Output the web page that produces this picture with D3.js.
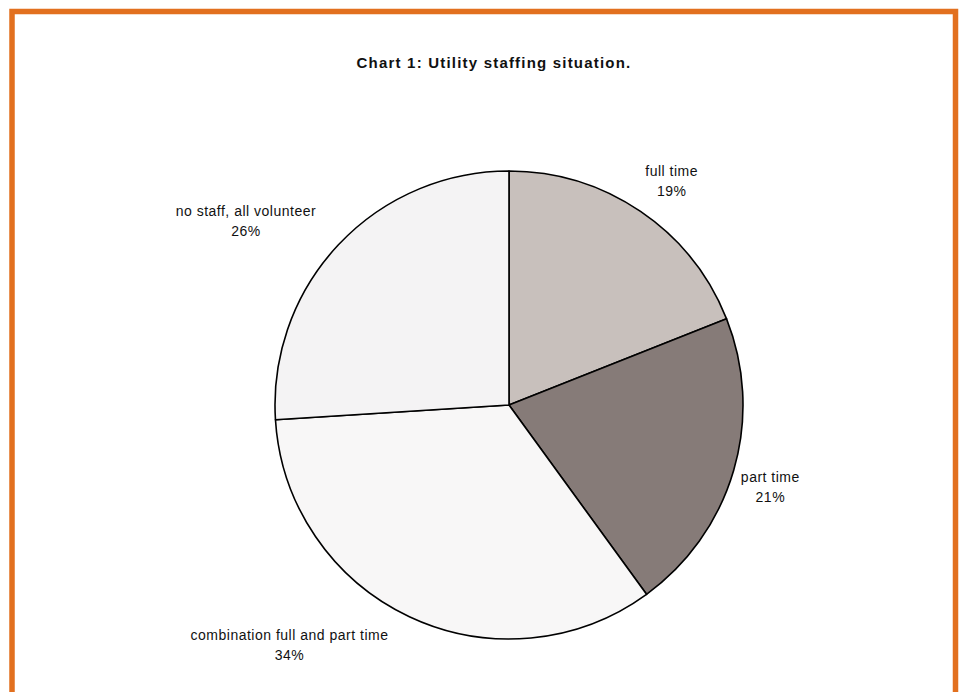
<!DOCTYPE html>
<html>
<head>
<meta charset="utf-8">
<script src="https://cdn.jsdelivr.net/npm/d3@7"></script>
<style>
html,body{margin:0;padding:0;background:#fff;}
svg{display:block;}
</style>
</head>
<body>
<svg id="chart" width="960" height="692"></svg>
<script>
const categories = ["full time", "part time", "combination full and part time", "no staff, all volunteer"];
const values = [19, 21, 34, 26];
const labels = ["19%", "21%", "34%", "26%"];
const colors = ["#c8c0bc", "#867b78", "#f8f7f7", "#f4f3f4"];
const title = "Chart 1: Utility staffing situation.";

// label placement tweaks (layout only)
const labelNudge = [[-7, 0], [-13, 6], [-12, -5], [-7, 1]];

const svg = d3.select("#chart");
const W = 960, H = 692;
const FONT = "Liberation Sans, Arial, sans-serif";

svg.append("rect").attr("x", 0).attr("y", 0).attr("width", W).attr("height", H).attr("fill", "#fff");
svg.append("path")
  .attr("d", `M12,${H+5} L12,11.5 L955.5,11.5 L955.5,${H+5}`)
  .attr("fill", "none").attr("stroke", "#e2701f").attr("stroke-width", 5.5);

svg.append("text")
  .attr("x", 494).attr("y", 68)
  .attr("text-anchor", "middle")
  .attr("font-family", FONT)
  .attr("font-weight", "bold")
  .attr("font-size", 15)
  .attr("letter-spacing", 1.2)
  .attr("fill", "#111")
  .text(title);

const cx = 509, cy = 405, r = 234;
const pie = d3.pie().sort(null).value(d => d)(values);
const arc = d3.arc().innerRadius(0).outerRadius(r);

const g = svg.append("g").attr("transform", `translate(${cx},${cy})`);
g.selectAll("path.slice").data(pie).enter().append("path")
  .attr("class", "slice")
  .attr("d", arc)
  .attr("fill", (d, i) => colors[i])
  .attr("stroke", "#000")
  .attr("stroke-width", 1.6)
  .attr("stroke-linejoin", "round");

const labelR = 255;
const lineH = 20;
pie.forEach((d, i) => {
  const a = (d.startAngle + d.endAngle) / 2;
  const px = Math.sin(a) * labelR, py = -Math.cos(a) * labelR;
  const t = g.append("text")
    .attr("font-family", FONT)
    .attr("font-size", 14)
    .attr("letter-spacing", 0.5)
    .attr("fill", "#111")
    .attr("text-anchor", "middle");
  const l1 = t.append("tspan").text(categories[i]);
  const w = Math.max(l1.node().getComputedTextLength(), 20);
  const h = lineH + 12;
  const bx = px + Math.sign(Math.sin(a)) * w / 2 + labelNudge[i][0];
  const by = py - Math.cos(a) * h / 2 + labelNudge[i][1];
  l1.attr("x", bx).attr("y", by - lineH / 2 + 5);
  t.append("tspan").attr("x", bx).attr("y", by + lineH / 2 + 5).text(labels[i]);
});
</script>
</body>
</html>
